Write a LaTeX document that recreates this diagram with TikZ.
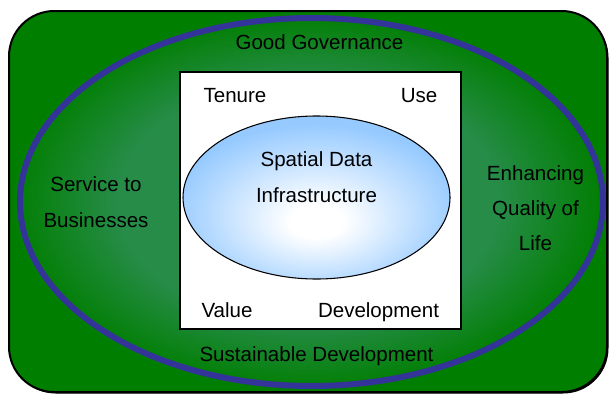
\documentclass[tikz,border=0pt]{standalone}
\usepackage{fontspec}
\setmainfont{Liberation Sans}
\definecolor{edgegreen}{RGB}{0,126,0}
\definecolor{midgreen}{RGB}{38,140,72}
\definecolor{ringblue}{RGB}{51,51,153}
\definecolor{sdiblue}{RGB}{150,202,255}
\pgfdeclareradialshading{greenshade}{\pgfpoint{0bp}{0bp}}{color(0bp)=(midgreen); color(16bp)=(midgreen); color(25bp)=(edgegreen); color(50bp)=(edgegreen)}
\pgfdeclareradialshading{sdishade}{\pgfpoint{0bp}{-8bp}}{color(0bp)=(white); color(5bp)=(white); color(27bp)=(sdiblue); color(60bp)=(sdiblue)}

\begin{document}
\begin{tikzpicture}[x=0.75pt, y=0.75pt,
  lbl/.style={font=\fontsize{15.4}{26.5}\selectfont, inner sep=0pt, anchor=base},
  blocklbl/.style={font=\fontsize{15.4}{26.5}\selectfont, inner sep=0pt, align=center}]
 \useasboundingbox (0,0) rectangle (609,394);

 \fill[black, rounded corners=34pt] (10.5,0.5) rectangle (608.5,381.5);
 \shadedraw[shading=greenshade, draw=black, line width=1.5pt, rounded corners=34pt] (9,2) rectangle (607,383);
 \draw[ringblue, line width=4.5pt] (311.5,192) ellipse [x radius=291.5, y radius=184];
 \draw[fill=white, line width=1.1pt] (180,65) rectangle (461,322);
 \shadedraw[shading=sdishade, draw=black, line width=0.8pt] (316.5,196.5) ellipse [x radius=133.5, y radius=81.5];

 \node[lbl] (gov) at (319.5,345) {Good Governance};
 \node[lbl] (sust) at (316.5,33) {Sustainable Development};
 \foreach \name/\x/\y/\txt in {tenure/235/292/Tenure, use/419/292/Use, value/227/77/Value, dev/378.5/77/Development} {
  \node[lbl] (\name) at (\x,\y) {\txt};
 }

 \node[blocklbl] (sdi) at (316.5,217) {Spatial Data\\Infrastructure};
 \node[blocklbl] (business) at (96,192) {Service to\\Businesses};
 \node[blocklbl] (life) at (535.5,186) {Enhancing\\Quality of\\Life};
\end{tikzpicture}
\end{document}
